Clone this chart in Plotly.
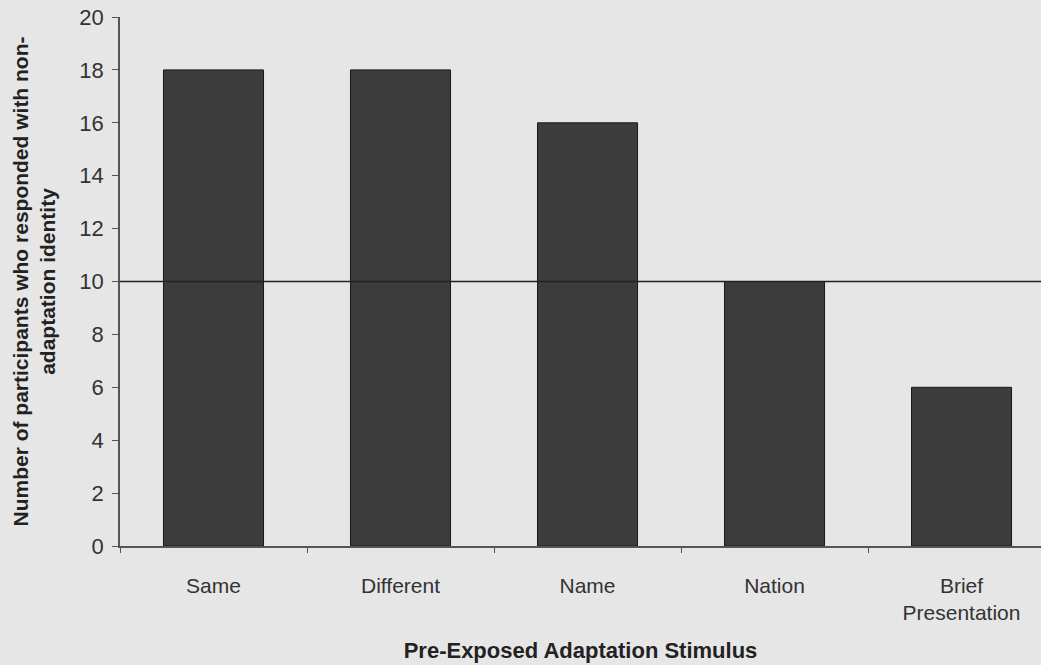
import plotly.graph_objects as go

categories = ["Same", "Different", "Name", "Nation", "Brief<br>Presentation"]
values = [18, 18, 16, 10, 6]
reference_level = 10
y_ticks = [0, 2, 4, 6, 8, 10, 12, 14, 16, 18, 20]

fig = go.Figure()
fig.add_trace(go.Bar(
    x=categories, y=values,
    marker=dict(color="#3c3c3c", line=dict(color="#1a1a1a", width=1)),
    width=0.535,
))

fig.add_shape(type="line", xref="paper", x0=0, x1=1, yref="y", y0=reference_level, y1=reference_level,
              line=dict(color="#222222", width=1.5))

font_family = "Liberation Sans, Arial, sans-serif"
fig.update_layout(
    width=1041, height=665,
    margin=dict(l=120, r=0, t=17, b=119),
    paper_bgcolor="#e6e6e6", plot_bgcolor="#e6e6e6",
    showlegend=False,
    font=dict(family=font_family, color="#333333", size=22),
)
fig.update_xaxes(
    range=[-0.5, 4.425],
    showline=True, linecolor="#555555", linewidth=1.5,
    ticks="outside", tickson="boundaries", ticklen=5, tickcolor="#555555",
    showgrid=False, zeroline=False,
    tickfont=dict(size=21, color="#333333"),
    ticklabelstandoff=20,
    title=dict(text="<b>Pre-Exposed Adaptation Stimulus</b>", font=dict(size=22, color="#222222"), standoff=19),
)
fig.update_yaxes(
    range=[0, 20], tickvals=y_ticks,
    showline=True, linecolor="#555555", linewidth=1.5,
    ticks="outside", ticklen=6, tickcolor="#555555",
    showgrid=False, zeroline=False,
    tickfont=dict(size=22, color="#333333"),
    ticklabelstandoff=4,
    automargin=True,
    title=dict(text="<b>Number of participants who responded with non-<br>adaptation identity</b>",
               font=dict(size=21, color="#222222"), standoff=18),
)
fig.write_html(
    "out.html",
    config={"displayModeBar": False},
    post_script="document.body.style.margin='0';document.body.style.background='#e6e6e6';document.documentElement.style.overflow='hidden';",
)
